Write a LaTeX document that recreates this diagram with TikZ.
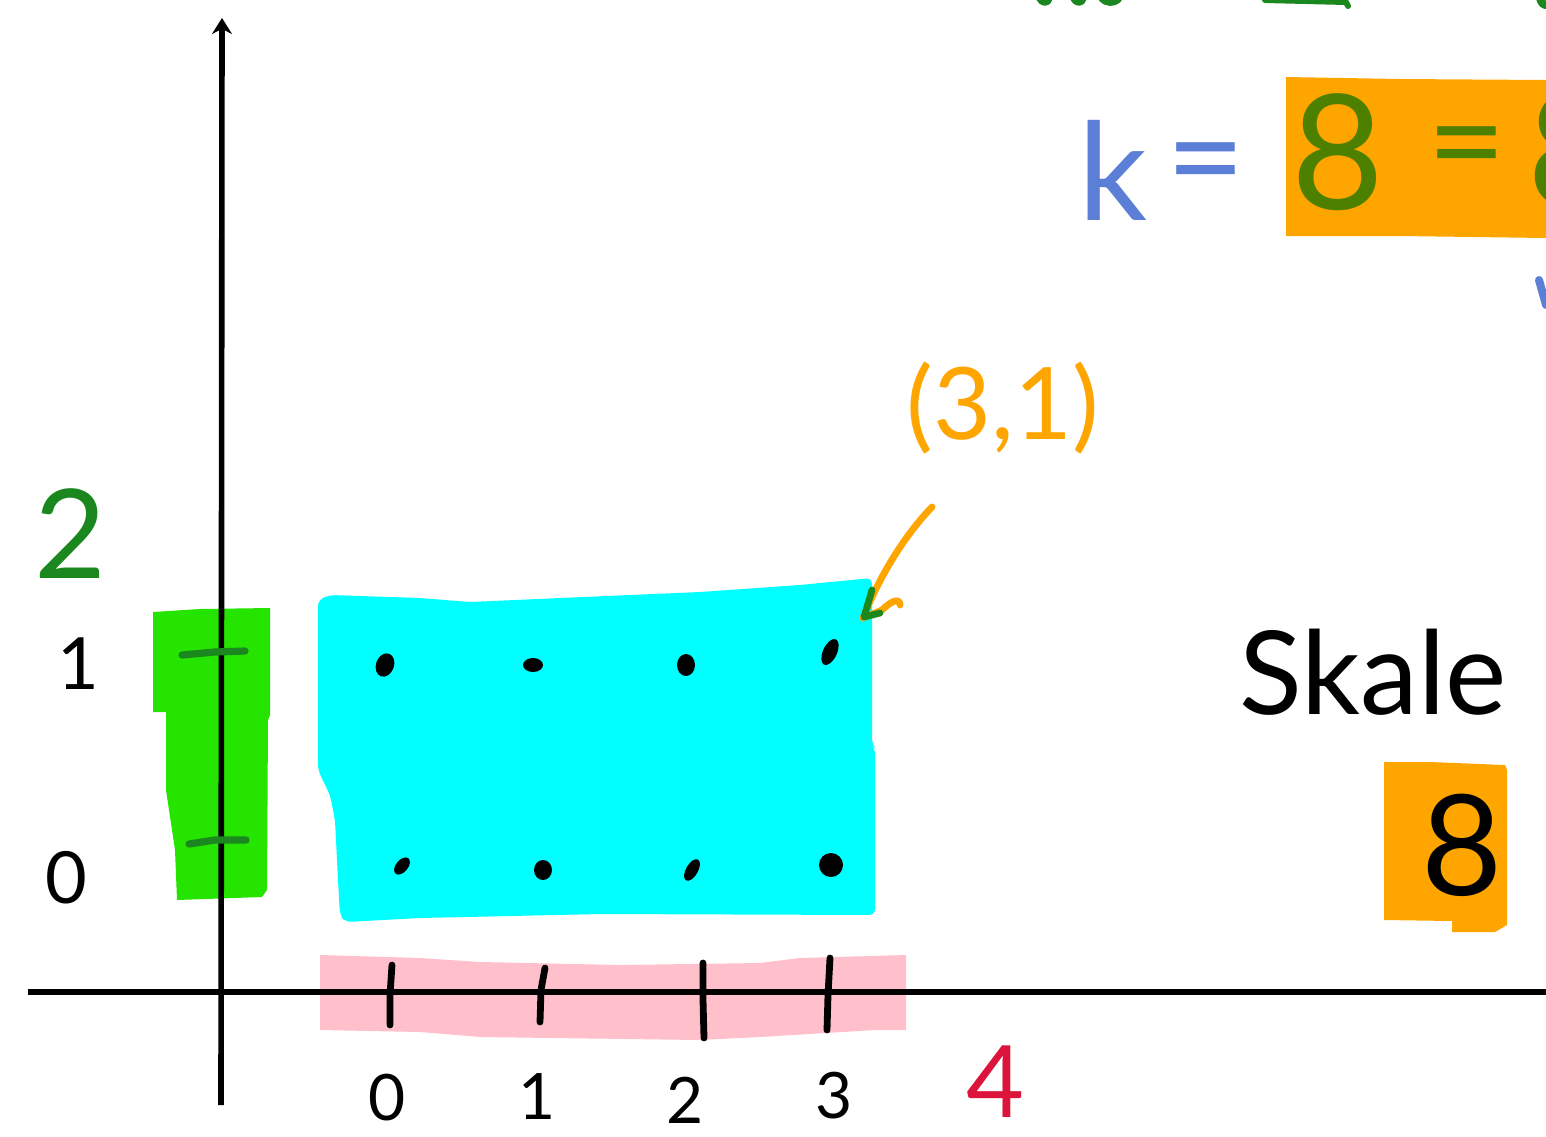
\documentclass[tikz,border=0pt]{standalone}
\usepackage{fontspec}
\setmainfont{Lato}
\usetikzlibrary{arrows.meta}
\definecolor{cyanfill}{RGB}{0,255,255}
\definecolor{brightgreen}{RGB}{36,228,0}
\definecolor{darkgreen}{RGB}{26,136,30}
\definecolor{olivegreen}{RGB}{78,128,0}
\definecolor{orangefill}{RGB}{255,165,0}
\definecolor{pinkfill}{RGB}{255,192,203}
\definecolor{crimsonred}{RGB}{220,20,60}
\definecolor{penblue}{RGB}{91,127,214}
\tikzset{
  pen/.style={line width=3.4pt, line cap=round, line join=round},
  lbl/.style={inner sep=0pt, font=\fontsize{36}{40}\selectfont},
}
\begin{document}
\begin{tikzpicture}[x=0.5pt,y=-0.5pt]
\useasboundingbox (0,0) rectangle (1546,1136);
\begin{scope}
\clip (0,0) rectangle (1546,1136);
\fill[white] (0,0) rectangle (1546,1136);

% green highlight on y axis
\fill[brightgreen] (153,612) -- (200,609) -- (270,608) -- (270,715) -- (268,720) -- (267,890) -- (262,897) -- (177,900) -- (175,850) -- (166,790) -- (166,712) -- (153,712) -- cycle;

% cyan region
\fill[cyanfill, rounded corners=3] (318,600) -- (330,595) -- (420,598) -- (470,602) -- (560,598) -- (700,592) -- (800,585) -- (872,578) -- (872,745) -- (875,748) -- (875,915) -- (600,914) -- (420,918) -- (345,922) -- (340,915) -- (338,880) -- (335,820) -- (330,795) -- (318,770) -- cycle;

% pink band on x axis
\fill[pinkfill] (320,955) -- (420,958) -- (480,962) -- (620,965) -- (760,963) -- (800,958) -- (906,955) -- (906,1030) -- (875,1030) -- (760,1037) -- (700,1040) -- (480,1037) -- (420,1032) -- (320,1030) -- cycle;

% orange boxes
\fill[orangefill] (1286,77) -- (1400,79) -- (1546,80) -- (1546,238) -- (1400,236) -- (1286,236) -- cycle;
\fill[orangefill] (1384,762) -- (1430,762) -- (1505,765) -- (1507,770) -- (1507,925) -- (1495,932) -- (1452,932) -- (1452,921) -- (1384,920) -- cycle;

% axes
\coordinate (ytop) at (222,18);
\coordinate (ybot) at (221,1105);
\coordinate (xleft) at (28,992);
\coordinate (xright) at (1546,992);
\draw[line width=2.8pt, -{Stealth[length=8pt,width=10pt]}] (ybot) -- (ytop);
\draw[line width=2.8pt] (xleft) -- (xright);

% y-axis ticks (dark green)
\draw[pen, darkgreen, line width=3.6pt] (182,655) -- (215,652) -- (245,651);
\draw[pen, darkgreen, line width=3.6pt] (189,844) -- (215,840) -- (246,840);

% x-axis ticks
\draw[pen] (392,965) -- (390,995) -- (390,1025);
\draw[pen] (545,968) -- (541,990) -- (540,1022);
\draw[pen] (703,963) -- (703,1000) -- (704,1038);
\draw[pen] (830,958) -- (828,995) -- (827,1030);

% lattice points
\foreach \n/\px/\py/\rx/\ry/\ang in {d00/402/866/6/10/-40, d10/543/870/9/10/0, d20/692/870/6/12/-30, d30/831/865/12/12/0, d01/385/665/9/12/-20, d11/533/665/10/7/0, d21/686/665/9/11/0, d31/830/652/7/14/-25}{
  \fill[rotate around={\ang:(\px,\py)}] (\px,\py) ellipse [x radius=\rx, y radius=\ry];
  \coordinate (\n) at (\px,\py);
}

% labels on axes
\node[lbl] (ylab1) at (78,664) {1};
\node[lbl] (ylab0) at (66,878) {0};
\node[lbl, text=darkgreen, font=\fontsize{62}{66}\selectfont] (ytwo) at (70,534) {2};
\node[lbl, font=\fontsize{32}{36}\selectfont] (xlab0) at (387,1098) {0};
\node[lbl, font=\fontsize{32}{36}\selectfont] (xlab1) at (537,1097) {1};
\node[lbl, font=\fontsize{32}{36}\selectfont] (xlab2) at (685,1100) {2};
\node[lbl, font=\fontsize{32}{36}\selectfont] (xlab3) at (834,1096) {3};
\node[lbl, text=crimsonred, font=\fontsize{50}{54}\selectfont] (xfour) at (995,1082) {4};

% (3,1) label and pointer
\node[lbl, text=orangefill, font=\fontsize{50}{56}\selectfont] (pt31) at (1003,408) {(3,1)};
\coordinate (arrstart) at (932,507);
\coordinate (arrend) at (863,618);
\draw[pen, orangefill] (arrstart) .. controls (905,535) and (880,575) .. (arrend);
\draw[pen, orangefill] (arrend) -- (882,610) .. controls (892,600) and (900,598) .. (900,605);
\draw[pen, darkgreen] (872,590) -- (864,617) -- (880,613);

% k = 8 = 8
\node[lbl, text=penblue, font=\fontsize{68}{72}\selectfont] (kk) at (1113,170) {k};
\node[lbl, text=penblue, font=\fontsize{68}{72}\selectfont] (keq) at (1206,174) {=};
\node[lbl, text=olivegreen, font=\fontsize{80}{84}\selectfont] (eightA) at (1338,152) {8};
\node[lbl, text=olivegreen, font=\fontsize{68}{72}\selectfont] (eqA) at (1467,158) {=};
\node[lbl, text=olivegreen, font=\fontsize{80}{84}\selectfont, anchor=west] (eightB) at (1527,150) {8};
\draw[pen, penblue, line width=4pt] (1539,280) -- (1546,305);

% Skale
\node[lbl, font=\fontsize{58}{62}\selectfont] (skale) at (1373,672) {Skale};
\node[lbl, font=\fontsize{70}{74}\selectfont] (eightC) at (1462,845) {8};

% cut-off green strokes at the top edge
\draw[pen, darkgreen, line width=4pt] (1040,-2) .. controls (1042,2) and (1046,3) .. (1048,0);
\draw[pen, darkgreen, line width=4pt] (1074,-2) .. controls (1076,2) and (1080,3) .. (1082,0);
\draw[pen, darkgreen, line width=4pt] (1102,-2) .. controls (1106,3) and (1114,3) .. (1118,-1);
\draw[pen, darkgreen, line width=3pt] (1265,0) -- (1346,2) -- (1348,6);
\draw[pen, darkgreen, line width=4pt] (1540,-2) .. controls (1541,3) and (1544,5) .. (1546,5);
\end{scope}
\end{tikzpicture}
\end{document}
